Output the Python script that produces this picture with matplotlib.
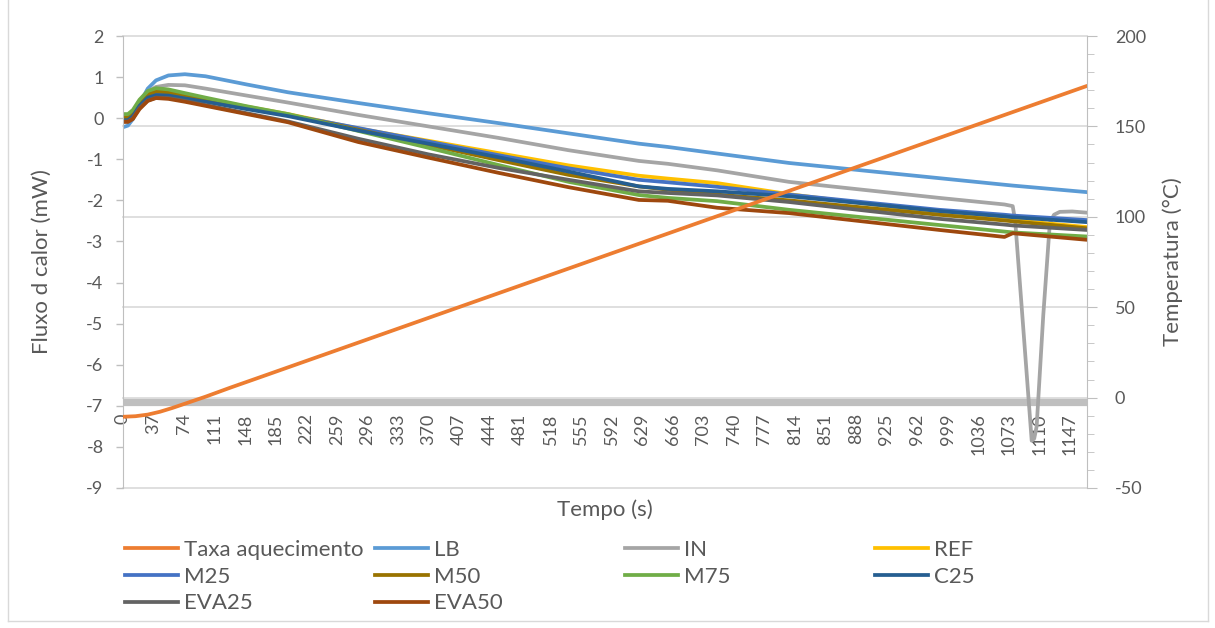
import matplotlib
matplotlib.use("Agg")
import matplotlib.pyplot as plt
from matplotlib.lines import Line2D
from matplotlib.ticker import MultipleLocator

plt.rcParams['font.family'] = ['Lato', 'DejaVu Sans']
plt.rcParams['axes.unicode_minus'] = False

# ---------------- data ----------------
t = [0, 6, 12, 20, 30, 40, 55, 75, 100, 150, 200, 285, 370, 455, 540, 625,
     660, 720, 807, 900, 989, 1068, 1078, 1168]

lb    = [-0.22, -0.18, -0.02, 0.35, 0.72, 0.92, 1.04, 1.07, 1.02, 0.82, 0.63, 0.37, 0.12,
         -0.12, -0.37, -0.62, -0.70, -0.86, -1.09, -1.28, -1.46, -1.62, -1.64, -1.80]
ref   = [0.05, 0.05, 0.15, 0.42, 0.62, 0.68, 0.65, 0.57, 0.47, 0.28, 0.10, -0.25, -0.55,
         -0.85, -1.15, -1.40, -1.47, -1.58, -1.85, -2.08, -2.30, -2.46, -2.48, -2.65]
m25   = [-0.02, -0.02, 0.08, 0.35, 0.55, 0.61, 0.59, 0.52, 0.43, 0.25, 0.08, -0.24, -0.57,
         -0.90, -1.22, -1.50, -1.56, -1.67, -1.86, -2.05, -2.23, -2.35, -2.37, -2.48]
m50   = [0.02, 0.02, 0.12, 0.38, 0.58, 0.65, 0.63, 0.55, 0.45, 0.26, 0.08, -0.28, -0.65,
         -1.02, -1.38, -1.66, -1.74, -1.86, -2.00, -2.18, -2.35, -2.49, -2.51, -2.68]
m75   = [0.10, 0.10, 0.20, 0.45, 0.66, 0.73, 0.70, 0.61, 0.50, 0.29, 0.10, -0.31, -0.72,
         -1.14, -1.55, -1.87, -1.94, -2.02, -2.23, -2.42, -2.60, -2.76, -2.78, -2.88]
c25   = [-0.05, -0.05, 0.05, 0.30, 0.50, 0.56, 0.55, 0.48, 0.40, 0.22, 0.05, -0.30, -0.62,
         -0.95, -1.30, -1.66, -1.72, -1.78, -1.90, -2.08, -2.26, -2.39, -2.41, -2.53]
eva25 = [-0.08, -0.08, 0.00, 0.25, 0.43, 0.50, 0.49, 0.42, 0.32, 0.12, -0.08, -0.50, -0.88,
         -1.21, -1.50, -1.78, -1.82, -1.88, -2.04, -2.25, -2.45, -2.59, -2.61, -2.72]
eva50 = [-0.09, -0.09, -0.02, 0.22, 0.42, 0.49, 0.47, 0.40, 0.30, 0.10, -0.10, -0.58, -0.96,
         -1.33, -1.68, -1.99, -2.01, -2.18, -2.31, -2.52, -2.72, -2.89, -2.80, -2.96]

t_in = [0, 6, 12, 20, 30, 40, 55, 75, 100, 150, 200, 285, 370, 455, 540, 625, 660, 720,
        807, 900, 989, 1068, 1078, 1081, 1090, 1101, 1104, 1107, 1115, 1123, 1128, 1135,
        1150, 1168]
inn = [0.0, 0.02, 0.12, 0.40, 0.65, 0.76, 0.81, 0.80, 0.72, 0.55, 0.38, 0.08, -0.20,
       -0.48, -0.78, -1.04, -1.11, -1.27, -1.55, -1.75, -1.94, -2.10, -2.14, -2.5, -4.9,
       -7.85, -7.8, -7.5, -4.8, -2.55, -2.35, -2.28, -2.27, -2.30]

t_temp = [0, 15, 30, 45, 60, 80, 100, 130, 160, 1168]
temp   = [-10.6, -10.3, -9.4, -7.8, -5.7, -2.6, 0.5, 5.5, 10.3, 172.4]

xticks = list(range(0, 1148, 37))
left_ticks = list(range(-9, 3))
right_ticks = list(range(-50, 201, 50))

# ---------------- figure ----------------
W, H = 1215, 628
fig = plt.figure(figsize=(W / 100, H / 100), dpi=100)
pos = [123 / W, 1 - 488 / H, (1087 - 123) / W, (488 - 36) / H]

TXT = '#595959'
AX = '#BFBFBF'

# grid axes (bottom layer)
axg = fig.add_axes(pos)
axg.set_ylim(-50, 200)
axg.set_xlim(0, 1168)
axg.set_yticks(right_ticks)
axg.set_xticks([])
axg.tick_params(left=False, labelleft=False)
axg.grid(axis='y', color='#D9D9D9', lw=1.2)
for gl in axg.get_ygridlines():
    gl.set_clip_on(False)
for s in axg.spines.values():
    s.set_visible(False)
axg.set_zorder(0)

ax = fig.add_axes(pos)
ax.set_zorder(1)
ax.patch.set_visible(False)
ax.set_ylim(-9, 2)
ax.set_xlim(0, 1168)

series = [
    (t, lb, '#5B9BD5', 'LB'),
    (t_in, inn, '#A5A5A5', 'IN'),
    (t, ref, '#FFC000', 'REF'),
    (t, m25, '#4472C4', 'M25'),
    (t, m50, '#997300', 'M50'),
    (t, m75, '#70AD47', 'M75'),
    (t, c25, '#255E91', 'C25'),
    (t, eva25, '#636363', 'EVA25'),
    (t, eva50, '#9E480E', 'EVA50'),
]
handles = {}
for xs, ys, c, name in series:
    ln, = ax.plot(xs, ys, color=c, lw=2.7, solid_capstyle='round', solid_joinstyle='round')
    handles[name] = ln

ax.set_yticks(left_ticks)
ax.set_xticks(xticks)
ax.set_xticklabels([str(v) for v in xticks])
ax.tick_params(axis='x', length=0, pad=8.5, labelsize=13, labelcolor=TXT, labelrotation=90)
ax.tick_params(axis='y', length=5, width=1, color=AX, pad=9, labelsize=13, labelcolor=TXT)
for s in ['top', 'right']:
    ax.spines[s].set_visible(False)
ax.spines['left'].set_color(AX)
ax.spines['bottom'].set_position(('data', -6.895))
ax.spines['bottom'].set_color('#BFBFBF')
ax.spines['bottom'].set_linewidth(5.2)
ax.spines['bottom'].set_zorder(1)
ax.spines['bottom'].set_capstyle('butt')

ax.set_ylabel('Fluxo d calor (mW)', fontsize=16, color=TXT)
ax.yaxis.set_label_coords(-0.074, 0.5)
ax.set_xlabel('Tempo (s)', fontsize=16, color=TXT)
ax.xaxis.set_label_coords(0.5, -0.026)

ax2 = ax.twinx()
ax2.set_zorder(2)
ax2.patch.set_visible(False)
o_ln, = ax2.plot(t_temp, temp, color='#ED7D31', lw=2.7, solid_capstyle='round')
handles['Taxa aquecimento'] = o_ln
ax2.set_ylim(-50, 200)
ax2.set_yticks(right_ticks)
ax2.yaxis.set_minor_locator(MultipleLocator(10))
ax2.tick_params(axis='y', which='major', length=7, color=AX, pad=13, labelsize=13, labelcolor=TXT)
ax2.tick_params(axis='y', which='minor', length=5, color=AX)
for s in ['top', 'left', 'bottom']:
    ax2.spines[s].set_visible(False)
ax2.spines['right'].set_color(AX)
ax2.set_ylabel('Temperatura (°C)', fontsize=16, color=TXT)
ax2.yaxis.set_label_coords(1.078, 0.5)

# ---------------- legend (4 equal-width columns) ----------------
cols = [['Taxa aquecimento', 'M25', 'EVA25'],
        ['LB', 'M50', 'EVA50'],
        ['IN', 'M75'],
        ['REF', 'C25']]
col_x = [125, 375, 625, 875]
for cx, names in zip(col_x, cols):
    hs = [Line2D([], [], color=handles[n].get_color(), lw=2.7) for n in names]
    leg = fig.legend(hs, names, loc='upper left', bbox_to_anchor=(cx / W, 1 - 540 / H),
                     frameon=False, fontsize=16, handlelength=2.4, handletextpad=0.25,
                     labelspacing=0.3, borderpad=0, borderaxespad=0)
    for tx in leg.get_texts():
        tx.set_color(TXT)

# chart border
fig.add_artist(Line2D([7.5 / W, 7.5 / W], [1 - 621 / H, 1], color='#D9D9D9', lw=1))
fig.add_artist(Line2D([7.5 / W, 1207.5 / W], [1 - 621 / H, 1 - 621 / H], color='#D9D9D9', lw=1))
fig.add_artist(Line2D([1207.5 / W, 1207.5 / W], [1 - 621 / H, 1], color='#D9D9D9', lw=1))

fig.savefig('out.png', dpi=100)
